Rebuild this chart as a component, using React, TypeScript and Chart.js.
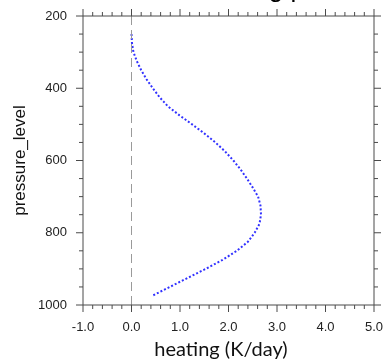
import React, { useEffect, useRef } from "react";
import { Chart, registerables } from "chart.js";

Chart.register(...registerables);

// ---- data ----
const pressureLevels = [250, 275, 300, 325, 350, 375, 400, 425, 450, 475, 500, 525, 550, 575, 600, 625, 650, 675, 700, 725, 750, 775, 800, 825, 850, 875, 900, 925, 950, 975];
const heatingValues = [0.0, 0.01, 0.04, 0.11, 0.2, 0.31, 0.44, 0.58, 0.75, 0.99, 1.25, 1.5, 1.73, 1.93, 2.1, 2.25, 2.38, 2.5, 2.61, 2.66, 2.67, 2.64, 2.54, 2.4, 2.17, 1.88, 1.53, 1.16, 0.79, 0.42];
const xTickValues = [-1, 0, 1, 2, 3, 4, 5];
const yTickValues = [200, 400, 600, 800, 1000];
const xMinorStep = 0.2;
const yMinorStep = 50;
const zeroLineHeating = [0, 0];
const zeroLinePressure = [200, 1000];
const titleText = "heating profile";
const xTitle = "heating (K/day)";
const yTitle = "pressure_level";

const frameTicks = {
  id: "frameTicks",
  afterDraw(chart: any) {
    const { ctx, chartArea } = chart;
    const xs = chart.scales.x;
    const ys = chart.scales.y;
    const { left, right, top, bottom } = chartArea;
    ctx.save();
    ctx.strokeStyle = "#4a4a4a";
    ctx.lineWidth = 1;
    ctx.beginPath();
    ctx.rect(left, top, right - left, bottom - top);
    ctx.stroke();
    const major = 7;
    const minor = 4;
    const xMin = xTickValues[0];
    const xMax = xTickValues[xTickValues.length - 1];
    const nx = Math.round((xMax - xMin) / xMinorStep);
    ctx.beginPath();
    for (let i = 0; i <= nx; i++) {
      const v = xMin + i * xMinorStep;
      const isMajor = i % 5 === 0;
      const len = isMajor ? major : minor;
      const px = xs.getPixelForValue(v);
      ctx.moveTo(px, bottom);
      ctx.lineTo(px, bottom + len);
      ctx.moveTo(px, top);
      ctx.lineTo(px, top - len);
    }
    const yMin = yTickValues[0];
    const yMax = yTickValues[yTickValues.length - 1];
    const ny = Math.round((yMax - yMin) / yMinorStep);
    for (let i = 0; i <= ny; i++) {
      const v = yMin + i * yMinorStep;
      const isMajor = i % 4 === 0;
      const len = isMajor ? major : minor;
      const py = ys.getPixelForValue(v);
      ctx.moveTo(left, py);
      ctx.lineTo(left - len, py);
      ctx.moveTo(right, py);
      ctx.lineTo(right + len, py);
    }
    ctx.stroke();

    // x axis title (slightly left of the plot centre, as in the reference)
    ctx.font = "20px Lato, 'Open Sans', sans-serif";
    ctx.fillStyle = "#111";
    ctx.textAlign = "center";
    ctx.textBaseline = "middle";
    ctx.fillText(xTitle, 221, 350);

    // title (mostly above the visible page, as in the reference)
    ctx.font = '26px "Liberation Sans", Arial, sans-serif';
    ctx.fillStyle = "#000";
    ctx.textBaseline = "alphabetic";
    ctx.textAlign = "left";
    const wPre = ctx.measureText("heatin").width;
    const wG = ctx.measureText("g").width;
    const startX = 276 - wPre - wG / 2;
    ctx.fillText(titleText, startX, -3);
    ctx.restore();
  },
};

export default function App() {
  const canvasRef = useRef<HTMLCanvasElement | null>(null);

  useEffect(() => {
    if (!canvasRef.current) return;
    const profile = pressureLevels.map((p, i) => ({ x: heatingValues[i], y: p }));
    const zero = zeroLinePressure.map((p, i) => ({ x: zeroLineHeating[i], y: p }));
    const tickFont = { family: '"Liberation Sans", Arial, sans-serif', size: 13 };
    const chart = new Chart(canvasRef.current, {
      type: "scatter",
      data: {
        datasets: [
          {
            data: zero,
            showLine: true,
            borderColor: "#9a9a9a",
            borderWidth: 1,
            borderDash: [9, 5],
            pointRadius: 0,
          },
          {
            data: profile,
            showLine: true,
            borderColor: "rgb(50,50,255)",
            borderWidth: 2,
            borderDash: [2, 2],
            pointRadius: 0,
            tension: 0,
          },
        ],
      },
      options: {
        responsive: false,
        animation: false,
        events: [],
        layout: { padding: { top: 16, right: 9, bottom: 0, left: 0 } },
        plugins: { legend: { display: false }, tooltip: { enabled: false }, title: { display: false } },
        scales: {
          x: {
            type: "linear",
            position: "bottom",
            min: xTickValues[0],
            max: xTickValues[xTickValues.length - 1],
            afterBuildTicks: (s: any) => {
              s.ticks = xTickValues.map((v) => ({ value: v }));
            },
            ticks: {
              callback: (v: any) => Number(v).toFixed(1),
              font: tickFont,
              color: "#222",
              padding: 7,
              maxRotation: 0,
              autoSkip: false,
            },
            grid: { display: false, drawTicks: true, tickLength: 8 },
            border: { display: false },
            title: { display: false },
            afterFit: (s: any) => {
              s.height = 59;
              s.paddingLeft = 0;
              s.paddingRight = 0;
            },
          },
          y: {
            type: "linear",
            reverse: true,
            min: yTickValues[0],
            max: yTickValues[yTickValues.length - 1],
            afterBuildTicks: (s: any) => {
              s.ticks = yTickValues.map((v) => ({ value: v }));
            },
            ticks: {
              callback: (v: any) => String(v),
              font: tickFont,
              color: "#222",
              padding: 8,
              autoSkip: false,
            },
            grid: { display: false, drawTicks: true, tickLength: 8 },
            border: { display: false },
            title: {
              display: true,
              text: yTitle,
              font: { family: '"Liberation Sans", Arial, sans-serif', size: 17 },
              color: "#111",
              padding: { top: 10, bottom: 0 },
            },
            afterFit: (s: any) => {
              s.width = 83;
              s.paddingTop = 0;
              s.paddingBottom = 0;
            },
          },
        },
      },
      plugins: [frameTicks],
    } as any);
    return () => chart.destroy();
  }, []);

  return (
    <div style={{ position: "absolute", left: 0, top: 0, width: 383, height: 364, background: "#fff" }}>
      <canvas ref={canvasRef} width={383} height={364} style={{ display: "block" }} />
    </div>
  );
}
